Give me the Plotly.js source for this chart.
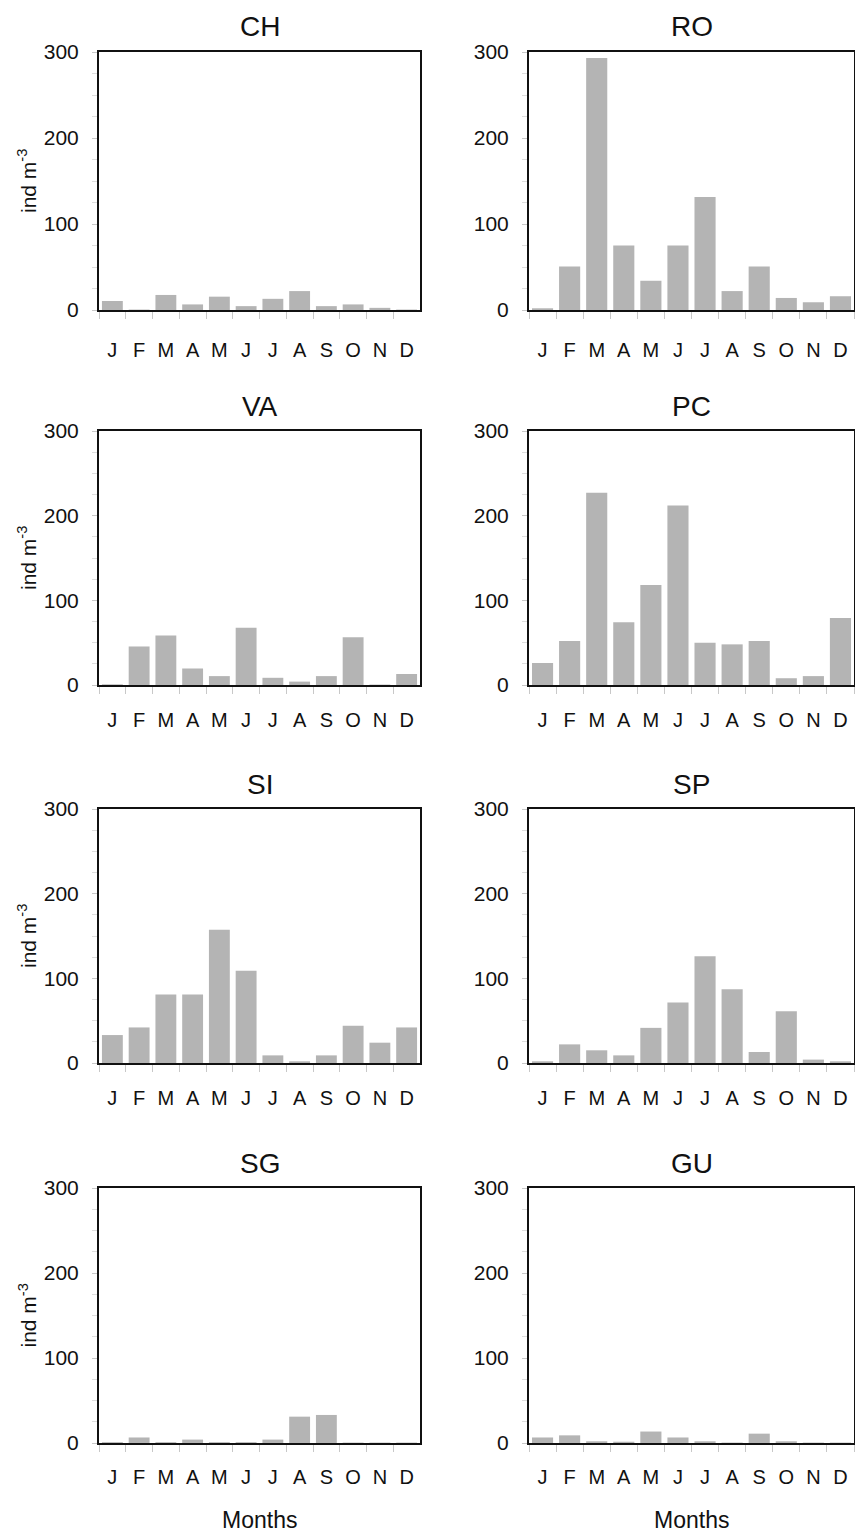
<!DOCTYPE html>
<html>
<head>
<meta charset="utf-8">
<script src="https://cdn.plot.ly/plotly-3.0.1.min.js"></script>
<style>
  html, body { margin: 0; padding: 0; background: #ffffff; }
  #chart { width: 855px; height: 1533px; }
</style>
</head>
<body>
<div id="chart"></div>
<script>
// Monthly abundance (ind m^-3) at eight sampling stations
const months = ['Jan', 'Feb', 'Mar', 'Apr', 'May', 'Jun', 'Jul', 'Aug', 'Sep', 'Oct', 'Nov', 'Dec'];
const monthInitials = ['J', 'F', 'M', 'A', 'M', 'J', 'J', 'A', 'S', 'O', 'N', 'D'];
const stations = ['CH', 'RO', 'VA', 'PC', 'SI', 'SP', 'SG', 'GU'];
const yTicks = [0, 100, 200, 300];

const CH = [10.5, 0.5, 17.5, 6.5, 15.5, 4.5, 13, 22, 4.5, 6.5, 2.5, 0.5];
const RO = [2, 50.5, 293, 75, 34, 75, 131.5, 22, 50.5, 14, 9, 16];
const VA = [0.8, 45.5, 58.5, 19.5, 10.5, 67.5, 8.5, 4, 10.5, 56.5, 0.5, 13];
const PC = [26, 52, 227, 74, 118, 212, 50, 48, 52, 8, 10.5, 79];
const SI = [33, 42, 81, 81, 157.5, 109, 9, 2, 9, 44, 24, 42];
const SP = [2, 22, 15, 9, 41.5, 71.5, 126, 87, 13, 61, 4, 2];
const SG = [1, 6.5, 1, 4, 1, 1, 4, 31, 33, 0.5, 0.5, 0.5];
const GU = [6.5, 9, 2, 1.5, 13.5, 6.5, 2, 0.5, 11, 2, 0.5, 0.5];

const series = [CH, RO, VA, PC, SI, SP, SG, GU];

// Page geometry (pixels)
const W = 855, H = 1533;
const colsPx = [[99, 420], [529, 854]];
const rowsPx = [[52, 310], [431, 685], [809, 1063], [1188, 1443]];
const labelGap = [21, 16, 16, 15];
const fx = p => p / W;
const fy = p => 1 - p / H;

const FONT = 'Liberation Sans, Arial, sans-serif';
const INK = '#111111';
const BAR = '#b4b4b4';
const TICK = '#c8c8c8';

const traces = [];
const layout = {
  width: W,
  height: H,
  margin: { l: 0, r: 0, t: 0, b: 0 },
  paper_bgcolor: '#ffffff',
  plot_bgcolor: '#ffffff',
  showlegend: false,
  bargap: 0.22,
  font: { family: FONT, color: INK },
  annotations: []
};

stations.forEach((name, i) => {
  const row = Math.floor(i / 2);
  const col = i % 2;
  const n = i + 1;
  const xa = 'x' + n, ya = 'y' + n;
  const [x0, x1] = colsPx[col];
  const [top, bottom] = rowsPx[row];

  traces.push({
    type: 'bar',
    x: months,
    y: series[i],
    xaxis: xa,
    yaxis: ya,
    marker: { color: BAR, line: { width: 0 } },
    hoverinfo: 'skip'
  });

  layout['xaxis' + n] = {
    domain: [fx(x0), fx(x1)],
    anchor: ya,
    type: 'category',
    range: [-0.5, 11.5],
    tickmode: 'array',
    tickvals: months,
    ticktext: monthInitials,
    tickson: 'boundaries',
    ticks: 'outside',
    ticklen: 7,
    tickwidth: 1,
    tickcolor: TICK,
    ticklabelstandoff: labelGap[row],
    tickfont: { family: FONT, size: 20, color: INK },
    showline: true,
    mirror: true,
    linecolor: INK,
    linewidth: 2,
    showgrid: false,
    zeroline: false,
    fixedrange: true
  };

  layout['yaxis' + n] = {
    domain: [fy(bottom), fy(top)],
    anchor: xa,
    range: [0, 300],
    tickmode: 'array',
    tickvals: yTicks,
    ticks: 'outside',
    ticklen: 5,
    tickwidth: 1,
    tickcolor: TICK,
    minor: { dtick: 25, ticks: 'outside', ticklen: 5, tickwidth: 1, tickcolor: '#dddddd' },
    ticklabelstandoff: 9,
    tickfont: { family: FONT, size: 21, color: INK },
    showline: true,
    mirror: true,
    linecolor: INK,
    linewidth: 2,
    showgrid: false,
    zeroline: false,
    fixedrange: true
  };

  // station title
  layout.annotations.push({
    text: name,
    xref: 'paper', yref: 'paper',
    x: fx((x0 + x1) / 2), y: fy(top - 25),
    xanchor: 'center', yanchor: 'middle',
    showarrow: false,
    font: { family: FONT, size: 28, color: INK }
  });

  // y-axis title on the left column
  if (col === 0) {
    layout.annotations.push({
      text: 'ind m<sup>-3</sup>',
      xref: 'paper', yref: 'paper',
      x: fx(27), y: fy((top + bottom) / 2),
      xanchor: 'center', yanchor: 'middle',
      textangle: -90,
      showarrow: false,
      font: { family: FONT, size: 21, color: INK }
    });
  }

  // x-axis title under the bottom row
  if (row === 3) {
    layout.annotations.push({
      text: 'Months',
      xref: 'paper', yref: 'paper',
      x: fx((x0 + x1) / 2), y: fy(1520),
      xanchor: 'center', yanchor: 'middle',
      showarrow: false,
      font: { family: FONT, size: 23, color: INK }
    });
  }
});

Plotly.newPlot('chart', traces, layout, { displayModeBar: false, staticPlot: true });
</script>
</body>
</html>
